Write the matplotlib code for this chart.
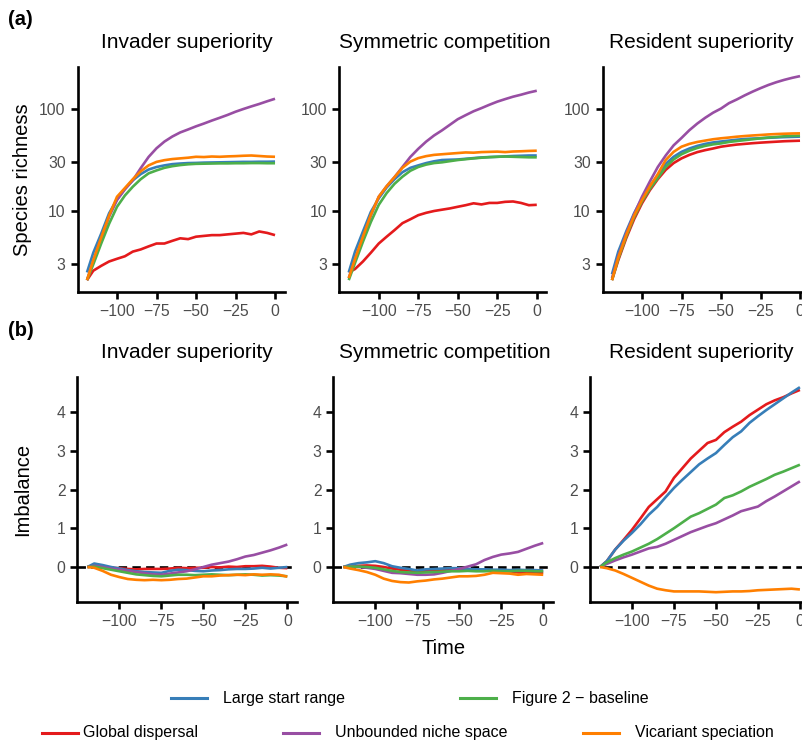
import matplotlib.pyplot as plt
from matplotlib.lines import Line2D

plt.rcParams['font.family'] = ['Liberation Sans', 'DejaVu Sans']

# time steps (shared by every run)
time = [-119, -115, -110, -105, -100, -95, -90, -85, -80, -75, -70, -65,
        -60, -55, -50, -45, -40, -35, -30, -25, -20, -15, -10, -5, 0]

scenarios = ['Invader superiority', 'Symmetric competition', 'Resident superiority']

# species richness, invader superiority
rich_inv_global = [2.1, 2.6, 2.9, 3.2, 3.4, 3.6, 4.0, 4.2, 4.5, 4.8, 4.8, 5.1, 5.4,
                   5.3, 5.6, 5.7, 5.8, 5.8, 5.9, 6.0, 6.1, 5.9, 6.3, 6.1, 5.8]
rich_inv_large = [2.5, 3.9, 6.0, 9.5, 13.0, 16.5, 20.0, 23.0, 25.5, 27.0, 28.0, 28.8, 29.2,
                  29.5, 29.6, 29.8, 29.9, 30.0, 30.1, 30.2, 30.3, 30.3, 30.4, 30.4, 30.5]
rich_inv_unbounded = [2.1, 3.2, 5.3, 8.8, 12.8, 16.3, 20.0, 26.3, 33.9, 41.2, 47.9, 53.7, 58.9,
                      63.0, 67.6, 72.0, 77.0, 82.0, 87.5, 94.0, 100.0, 106.0, 112.0, 119.0, 126.0]
rich_inv_baseline = [2.1, 3.0, 4.8, 7.5, 11.0, 14.2, 17.3, 20.5, 23.4, 25.0, 26.5, 27.5, 28.2,
                     28.7, 29.0, 29.1, 29.2, 29.3, 29.3, 29.4, 29.4, 29.5, 29.5, 29.4, 29.4]
rich_inv_vicariant = [2.1, 3.3, 5.5, 9.0, 13.8, 16.8, 20.5, 24.5, 28.0, 30.3, 31.5, 32.3, 32.8,
                      33.3, 34.0, 33.8, 34.2, 34.0, 34.3, 34.5, 34.8, 35.0, 34.6, 34.2, 34.0]

# species richness, symmetric competition
rich_sym_global = [2.5, 2.7, 3.2, 3.9, 4.8, 5.6, 6.5, 7.6, 8.3, 9.1, 9.6, 10.0, 10.3,
                   10.6, 11.0, 11.4, 11.9, 11.6, 12.0, 12.0, 12.3, 12.4, 12.0, 11.4, 11.5]
rich_sym_large = [2.5, 4.0, 6.3, 9.8, 13.3, 17.0, 20.5, 24.0, 26.5, 28.0, 29.5, 30.7, 31.6,
                  31.8, 32.0, 32.5, 33.0, 33.5, 33.8, 34.0, 34.3, 34.6, 34.8, 35.0, 35.0]
rich_sym_unbounded = [2.2, 3.3, 5.4, 9.0, 13.8, 17.5, 21.5, 27.0, 33.9, 40.7, 47.9, 55.0, 61.7,
                      70.0, 79.4, 87.0, 95.0, 102.0, 110.0, 118.0, 125.0, 132.0, 138.0, 145.0, 151.0]
rich_sym_baseline = [2.1, 3.1, 5.0, 7.8, 11.5, 15.0, 18.5, 21.7, 24.8, 27.0, 28.5, 29.5, 30.0,
                     30.8, 31.6, 32.2, 32.8, 33.3, 33.7, 34.0, 34.2, 34.0, 33.8, 33.6, 33.6]
rich_sym_vicariant = [2.2, 3.4, 5.6, 9.2, 13.8, 17.5, 21.5, 26.5, 30.5, 33.0, 34.5, 35.5, 36.0,
                      36.5, 37.0, 37.5, 37.3, 37.8, 38.0, 38.2, 37.8, 38.3, 38.5, 38.8, 39.0]

# species richness, resident superiority
rich_res_global = [2.1, 3.3, 5.4, 8.3, 11.9, 16.0, 20.5, 25.3, 29.5, 32.8, 35.5, 37.8, 39.5,
                   41.0, 42.7, 43.8, 44.8, 45.5, 46.2, 46.8, 47.3, 47.8, 48.3, 48.6, 48.9]
rich_res_large = [2.4, 4.0, 6.3, 9.5, 13.3, 17.5, 22.0, 29.0, 34.0, 38.0, 41.0, 43.5, 45.5,
                  47.0, 48.0, 49.0, 50.0, 50.8, 51.3, 51.6, 52.2, 52.6, 53.0, 53.3, 53.6]
rich_res_unbounded = [2.2, 3.6, 6.0, 9.3, 13.8, 19.5, 27.0, 35.0, 44.0, 52.0, 62.0, 72.0, 82.0,
                      92.0, 101.0, 114.0, 124.0, 136.0, 148.0, 160.0, 172.0, 183.0, 193.0, 202.0, 210.0]
rich_res_baseline = [2.1, 3.4, 5.6, 8.7, 12.4, 16.5, 21.0, 27.0, 32.0, 36.0, 39.0, 41.5, 43.5,
                     45.0, 46.0, 47.5, 48.5, 49.5, 50.5, 51.6, 52.5, 53.2, 54.0, 54.5, 54.8]
rich_res_vicariant = [2.1, 3.5, 5.8, 9.0, 12.8, 17.5, 23.0, 31.6, 38.0, 42.7, 45.5, 47.5, 49.0,
                      50.5, 51.6, 52.5, 53.5, 54.3, 55.0, 55.6, 56.3, 56.8, 57.2, 57.5, 57.7]

# imbalance, invader superiority
imb_inv_global = [0.0, 0.02, 0.0, -0.02, -0.03, -0.05, -0.06, -0.05, -0.05, -0.05, -0.04, -0.02, -0.03,
                  -0.02, -0.02, 0.0, -0.01, 0.01, 0.0, 0.02, 0.02, 0.03, 0.01, -0.02, -0.03]
imb_inv_large = [0.0, 0.09, 0.05, 0.0, -0.04, -0.08, -0.11, -0.13, -0.14, -0.15, -0.1, -0.07, -0.08,
                 -0.1, -0.11, -0.09, -0.08, -0.06, -0.05, -0.05, -0.04, -0.02, -0.04, -0.02, 0.0]
imb_inv_unbounded = [0.0, 0.03, 0.0, -0.04, -0.07, -0.1, -0.13, -0.16, -0.19, -0.2, -0.17, -0.14, -0.11,
                     -0.06, 0.0, 0.06, 0.1, 0.14, 0.2, 0.27, 0.31, 0.37, 0.43, 0.5, 0.58]
imb_inv_baseline = [0.0, 0.01, -0.03, -0.07, -0.11, -0.15, -0.19, -0.21, -0.23, -0.24, -0.22, -0.2, -0.2,
                    -0.21, -0.2, -0.19, -0.2, -0.21, -0.2, -0.19, -0.2, -0.22, -0.21, -0.22, -0.24]
imb_inv_vicariant = [0.0, -0.02, -0.1, -0.2, -0.26, -0.31, -0.33, -0.34, -0.33, -0.34, -0.33, -0.31, -0.3,
                     -0.27, -0.24, -0.24, -0.22, -0.21, -0.2, -0.21, -0.19, -0.2, -0.19, -0.2, -0.25]

# imbalance, symmetric competition
imb_sym_global = [0.0, 0.01, 0.03, 0.04, 0.03, 0.0, -0.04, -0.07, -0.09, -0.11, -0.1, -0.09, -0.08,
                  -0.07, -0.07, -0.08, -0.08, -0.09, -0.09, -0.09, -0.11, -0.14, -0.15, -0.14, -0.15]
imb_sym_large = [0.0, 0.06, 0.1, 0.12, 0.15, 0.1, 0.02, -0.02, -0.05, -0.09, -0.06, -0.05, -0.04,
                 -0.03, -0.03, -0.05, -0.06, -0.06, -0.07, -0.07, -0.08, -0.07, -0.08, -0.08, -0.09]
imb_sym_unbounded = [0.0, 0.02, 0.0, -0.02, -0.05, -0.1, -0.15, -0.16, -0.18, -0.2, -0.2, -0.19, -0.15,
                     -0.1, -0.05, 0.01, 0.07, 0.18, 0.26, 0.32, 0.35, 0.39, 0.47, 0.55, 0.62]
imb_sym_baseline = [0.0, 0.01, 0.01, 0.0, -0.02, -0.06, -0.1, -0.13, -0.14, -0.15, -0.14, -0.13, -0.12,
                    -0.11, -0.11, -0.1, -0.11, -0.11, -0.1, -0.11, -0.11, -0.1, -0.1, -0.11, -0.11]
imb_sym_vicariant = [0.0, -0.04, -0.08, -0.13, -0.2, -0.3, -0.36, -0.39, -0.4, -0.37, -0.35, -0.32, -0.3,
                     -0.27, -0.24, -0.24, -0.23, -0.2, -0.15, -0.16, -0.17, -0.2, -0.18, -0.19, -0.2]

# imbalance, resident superiority
imb_res_global = [0.0, 0.15, 0.45, 0.7, 0.96, 1.25, 1.55, 1.75, 1.95, 2.3, 2.55, 2.8, 3.0,
                  3.2, 3.28, 3.48, 3.62, 3.75, 3.92, 4.06, 4.2, 4.3, 4.38, 4.48, 4.57]
imb_res_large = [0.0, 0.15, 0.45, 0.68, 0.88, 1.1, 1.35, 1.55, 1.8, 2.04, 2.25, 2.45, 2.65,
                 2.8, 2.94, 3.15, 3.35, 3.5, 3.72, 3.89, 4.05, 4.2, 4.35, 4.5, 4.64]
imb_res_unbounded = [0.0, 0.08, 0.17, 0.25, 0.32, 0.4, 0.48, 0.52, 0.6, 0.7, 0.8, 0.9, 0.98,
                     1.06, 1.13, 1.23, 1.33, 1.44, 1.5, 1.56, 1.7, 1.82, 1.95, 2.08, 2.21]
imb_res_baseline = [0.0, 0.12, 0.23, 0.32, 0.4, 0.5, 0.6, 0.72, 0.86, 1.0, 1.15, 1.3, 1.39,
                    1.5, 1.61, 1.78, 1.85, 1.95, 2.07, 2.17, 2.27, 2.38, 2.46, 2.55, 2.64]
imb_res_vicariant = [0.0, -0.03, -0.09, -0.18, -0.28, -0.38, -0.48, -0.56, -0.6, -0.63, -0.63, -0.63, -0.63,
                     -0.64, -0.65, -0.64, -0.63, -0.63, -0.62, -0.6, -0.59, -0.58, -0.57, -0.56, -0.58]

# drawing order: global, large, unbounded, baseline, vicariant
colors = ['#E41A1C', '#377EB8', '#984EA3', '#4DAF4A', '#FF7F00']
richness = [
    [rich_inv_global, rich_inv_large, rich_inv_unbounded, rich_inv_baseline, rich_inv_vicariant],
    [rich_sym_global, rich_sym_large, rich_sym_unbounded, rich_sym_baseline, rich_sym_vicariant],
    [rich_res_global, rich_res_large, rich_res_unbounded, rich_res_baseline, rich_res_vicariant],
]
imbalance = [
    [imb_inv_global, imb_inv_large, imb_inv_unbounded, imb_inv_baseline, imb_inv_vicariant],
    [imb_sym_global, imb_sym_large, imb_sym_unbounded, imb_sym_baseline, imb_sym_vicariant],
    [imb_res_global, imb_res_large, imb_res_unbounded, imb_res_baseline, imb_res_vicariant],
]

W, H = 802, 742
fig = plt.figure(figsize=(W / 100, H / 100), dpi=100)


def box(left, top, width, height):
    return [left / W, 1 - (top + height) / H, width / W, height / H]


def style(ax):
    for side in ['top', 'right']:
        ax.spines[side].set_visible(False)
    for side in ['left', 'bottom']:
        ax.spines[side].set_linewidth(1.9)
    ax.tick_params(direction='out', length=5, width=1.9, pad=3.5,
                   labelsize=11.3, labelcolor='#4D4D4D')
    ax.set_xlim(-125, 6)
    ax.set_xticks([-100, -75, -50, -25, 0])
    ax.patch.set_visible(False)


top_left = [77.5, 339.25, 602.5]
bot_left = [77.4, 333.3, 590]
title_x = [186.5, 444.5, 701]

for i in range(3):
    ax = fig.add_axes(box(top_left[i], 67, 207, 225))
    for vals, c in zip(richness[i], colors):
        ax.plot(time, vals, color=c, lw=1.9, solid_capstyle='butt')
    ax.set_yscale('log')
    ax.set_ylim(1.607, 258)
    ax.set_yticks([3, 10, 30, 100])
    ax.set_yticklabels(['3', '10', '30', '100'])
    ax.minorticks_off()
    style(ax)
    fig.text(title_x[i] / W, 1 - 48 / H, scenarios[i], ha='center', va='baseline', fontsize=15)

    ax = fig.add_axes(box(bot_left[i], 377, 220, 225))
    ax.axhline(0, color='black', lw=1.9, dashes=(3.2, 2.0), zorder=1)
    for vals, c in zip(imbalance[i], colors):
        ax.plot(time, vals, color=c, lw=1.9, solid_capstyle='butt', zorder=2)
    ax.set_ylim(-0.903, 4.903)
    ax.set_yticks([0, 1, 2, 3, 4])
    style(ax)
    fig.text(title_x[i] / W, 1 - 358 / H, scenarios[i], ha='center', va='baseline', fontsize=15)

fig.text(8 / W, 1 - 25 / H, '(a)', fontsize=14.5, fontweight='bold', va='baseline')
fig.text(8 / W, 1 - 336 / H, '(b)', fontsize=14.5, fontweight='bold', va='baseline')
fig.text(23 / W, 1 - 179.5 / H, 'Species richness', rotation=90, ha='center', va='center', fontsize=14.5)
fig.text(23 / W, 1 - 489.5 / H, 'Imbalance', rotation=90, ha='center', va='center', fontsize=14.5)
fig.text(444 / W, 1 - 654 / H, 'Time', ha='center', va='baseline', fontsize=14.5)

# legend rows
legend_items = [
    ('Large start range', '#377EB8', 170.7, 698),
    ('Figure 2 \u2212 baseline', '#4DAF4A', 460, 698),
    ('Global dispersal', '#E41A1C', 41.7, 733),
    ('Unbounded niche space', '#984EA3', 283.3, 733),
    ('Vicariant speciation', '#FF7F00', 582.7, 733),
]
text_gap = {'Global dispersal': 5}
for label, c, x0, y0 in legend_items:
    yy = 1 - y0 / H
    fig.add_artist(Line2D([x0 / W, (x0 + 36) / W], [yy, yy], color=c, lw=2.2,
                          transform=fig.transFigure))
    gap = text_gap.get(label, 16)
    fig.text((x0 + 36 + gap) / W, yy, label, ha='left', va='center', fontsize=11.5)

fig.savefig('out.png', dpi=100)
